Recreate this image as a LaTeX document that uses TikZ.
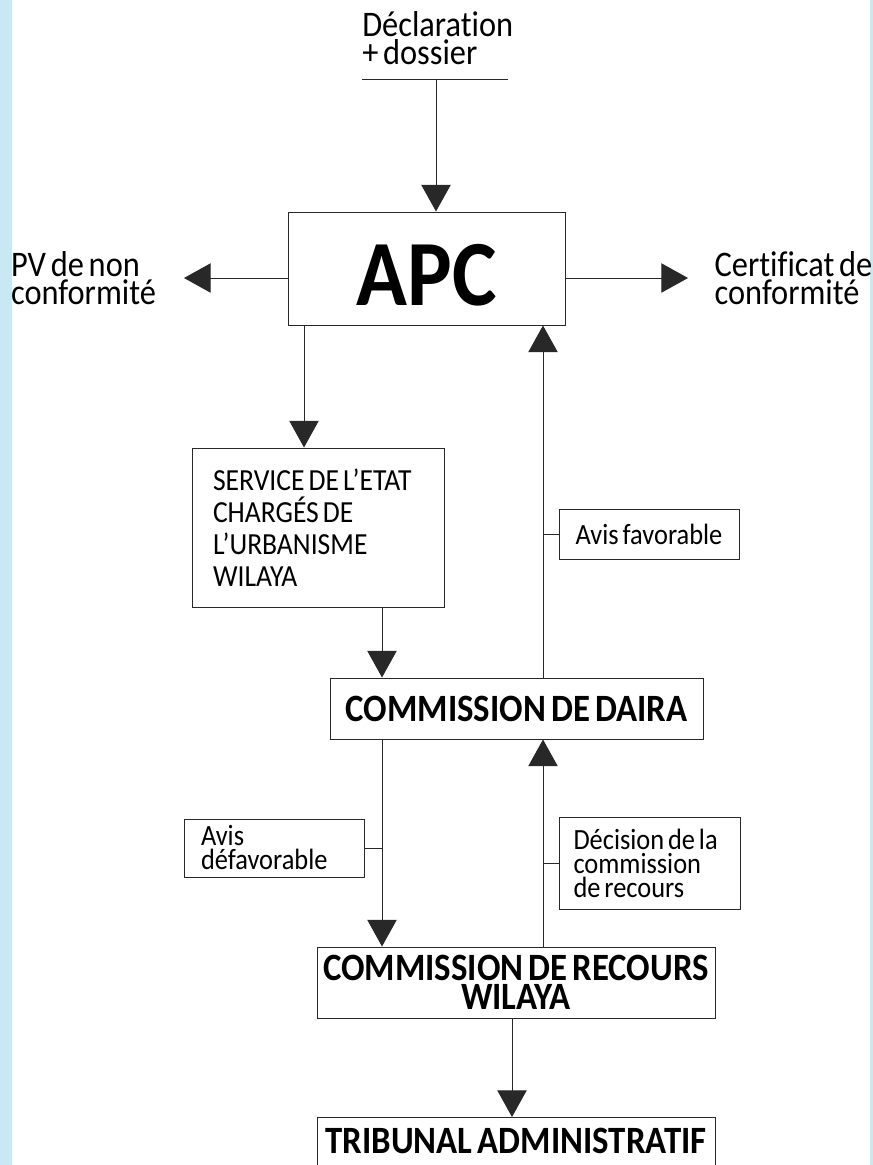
\documentclass[tikz,border=0pt]{standalone}
\usepackage{fontspec}
\setmainfont{Carlito}[FakeStretch=0.9, WordSpace=0.65, Ligatures={TeX,NoCommon}]
\usetikzlibrary{arrows.meta}
\newcommand{\serre}{\lineskiplimit=-100pt\relax}

\begin{document}
\begin{tikzpicture}[x=.75pt, y=-.75pt,
    >={Triangle[width=22pt,length=20pt]},
    lien/.style={draw=myLine, line width=.75pt},
    boite/.style={draw=myLine, line width=.75pt, inner sep=0pt},
    etiq/.style={inner sep=0pt, align=left, font=\fontsize{27}{21}\selectfont\serre},
    petit/.style={font=\fontsize{22}{18}\selectfont\serre},
    grand/.style={font=\fontsize{29}{21.5}\selectfont\bfseries\serre}]
    \definecolor{myLine}{RGB}{40,40,40}
    \definecolor{fondBleu}{RGB}{200,233,241}

    \useasboundingbox (0,0) rectangle (873,1165);
    \fill[white] (0,0) rectangle (873,1165);
    \fill[fondBleu] (0,0) rectangle (12,1165);
    \fill[fondBleu] (870,0) rectangle (873,1165);

    \coordinate (voieS) at (304,0);
    \coordinate (voieG) at (382,0);
    \coordinate (voieD) at (543,0);
    \coordinate (voieT) at (512,0);

    \node[etiq, anchor=north west] (decl) at (362,11) {Déclaration\\+ dossier};
    \coordinate (dl) at (362,79);
    \coordinate (dr) at (508,79);
    \coordinate (dmid) at (436,79);

    \node[boite, minimum width=277*.75pt, minimum height=113*.75pt,
          font=\fontsize{70}{72}\selectfont\bfseries, text height=55pt, text depth=0pt] (apc) at (426.5,268.5) {APC};
    \node[etiq, anchor=east, outer xsep=21pt] (pv) at (184,278) {PV de non\\conformité};
    \node[etiq, anchor=west, outer xsep=20pt] (cert) at (688,278) {Certificat de\\conformité};

    \node[boite, minimum width=252*.75pt, minimum height=159*.75pt, text width=210*.75pt, align=flush left,
          font=\fontsize{23}{24}\selectfont] (serv) at (318,527.5) {SERVICE DE L’ETAT\\CHARGÉS DE\\L’URBANISME\\WILAYA};
    \node[boite, petit, minimum width=180*.75pt, minimum height=50*.75pt] (favo) at (649,534) {Avis favorable};

    \node[boite, grand, minimum width=373*.75pt, minimum height=61*.75pt] (daira) at (516.5,708.5) {COMMISSION DE DAIRA};

    \node[boite, petit, minimum width=180*.75pt, minimum height=58*.75pt, text width=146*.75pt, align=flush left] (defav) at (274,848) {Avis\\défavorable};
    \node[boite, petit, minimum width=181*.75pt, minimum height=92*.75pt, text width=152*.75pt, align=flush left] (decis) at (649.5,863) {Décision de la\\commission\\de recours};

    \node[boite, grand, minimum width=398*.75pt, minimum height=71*.75pt, align=center] (recours) at (516,982.5) {COMMISSION DE RECOURS\\WILAYA};
    \node[boite, grand, minimum width=398*.75pt, anchor=north, inner ysep=8pt, text depth=40pt] (trib) at (516,1117) {TRIBUNAL ADMINISTRATIF};

    \draw[lien] (dl) -- (dr);
    \draw[lien,->] (dmid) -- (dmid |- apc.north);
    \draw[lien,->] (apc.west |- pv.east) -- (pv.east);
    \draw[lien,->] (apc.east |- cert.west) -- (cert.west);
    \draw[lien,->] (apc.south -| voieS) -- (serv.north -| voieS);
    \draw[lien,->] (serv.south -| voieG) -- (daira.north -| voieG);
    \draw[lien,->] (daira.north -| voieD) -- (apc.south -| voieD);
    \draw[lien] (voieD |- favo.west) -- (favo.west);
    \draw[lien,->] (daira.south -| voieG) -- (recours.north -| voieG);
    \draw[lien] (defav.east) -- (voieG |- defav.east);
    \draw[lien,->] (recours.north -| voieD) -- (daira.south -| voieD);
    \draw[lien] (voieD |- decis.west) -- (decis.west);
    \draw[lien,->] (recours.south -| voieT) -- (trib.north -| voieT);
\end{tikzpicture}
\end{document}
